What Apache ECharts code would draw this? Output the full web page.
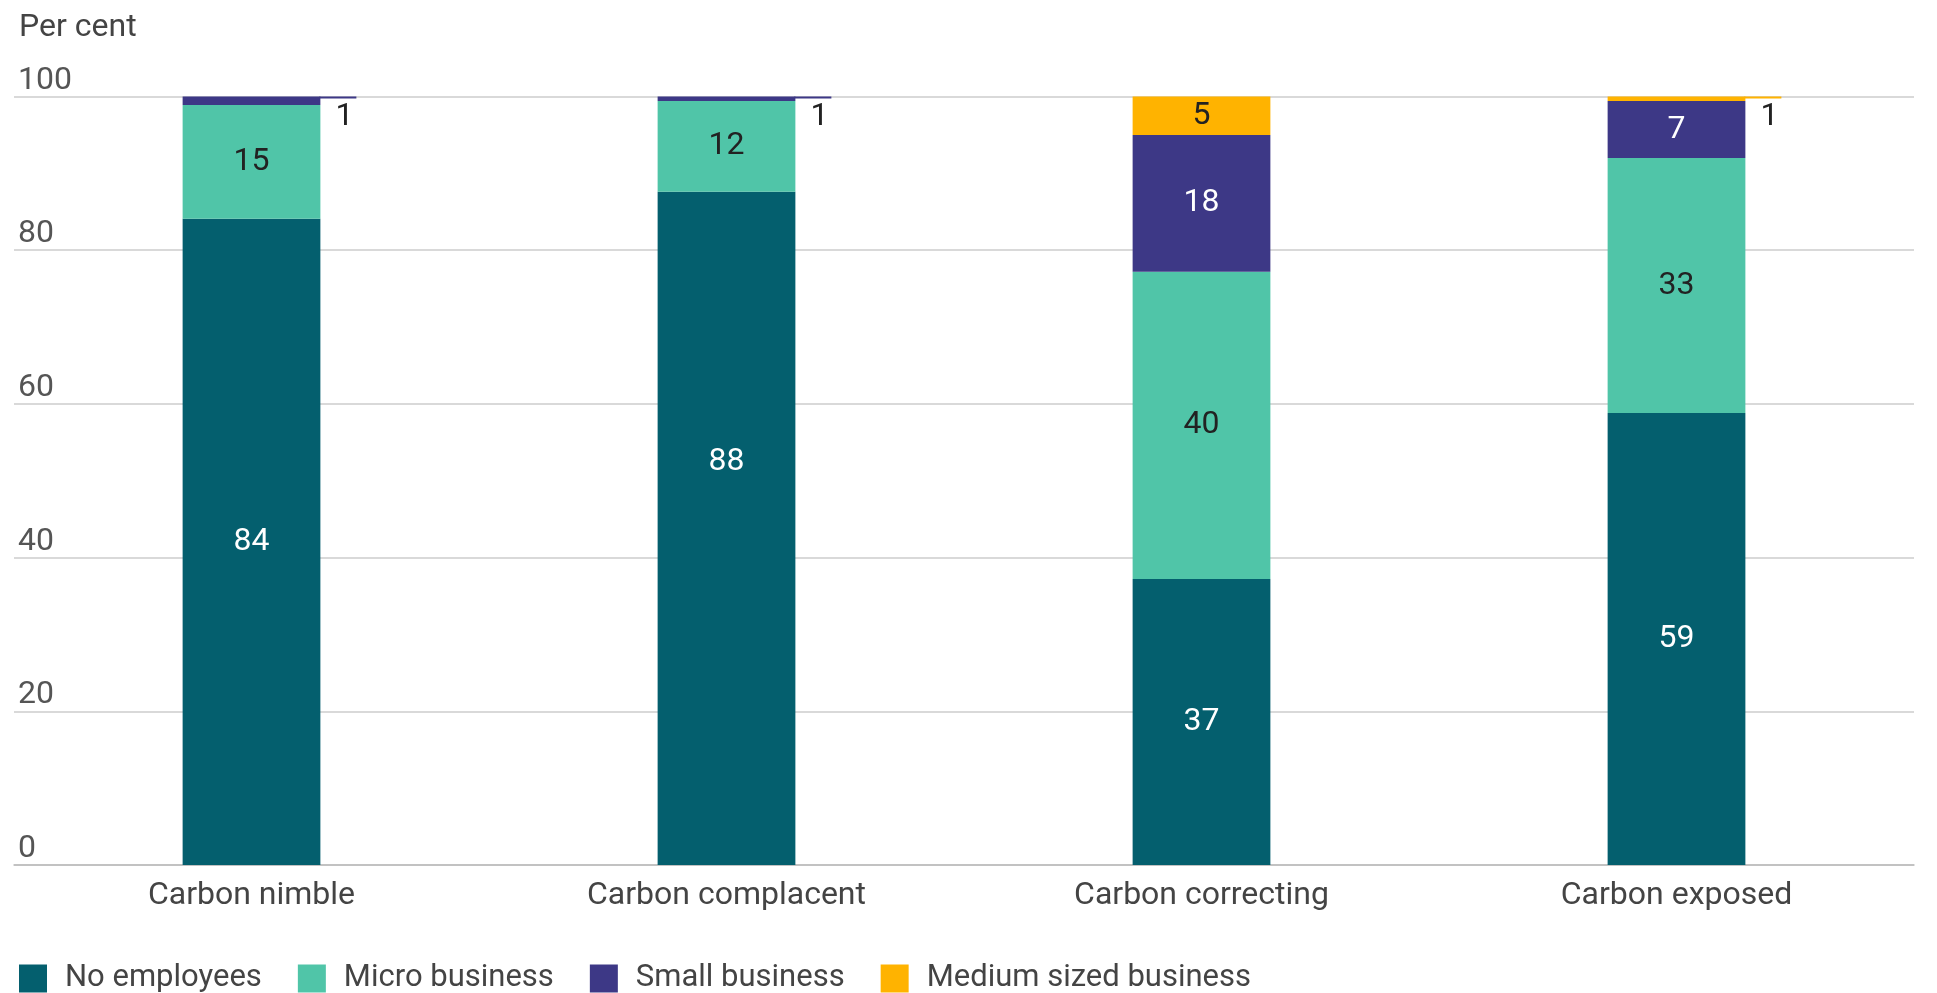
<!DOCTYPE html>
<html>
<head>
<meta charset="utf-8">
<script src="https://cdn.jsdelivr.net/npm/echarts@6/dist/echarts.min.js"></script>
<style>
html,body{margin:0;padding:0;background:#fff;}
#chart{width:1937px;height:993px;}
</style>
</head>
<body>
<div id="chart"></div>
<script>
// ---- data ----
const categories = ['Carbon nimble', 'Carbon complacent', 'Carbon correcting', 'Carbon exposed'];
const seriesNames = ['No employees', 'Micro business', 'Small business', 'Medium sized business'];
const noEmployees = [84.1, 87.6, 37.2, 58.8];
const microBusiness = [14.8, 11.8, 40.0, 33.2];
const smallBusiness = [1.1, 0.6, 17.8, 7.4];
const mediumBusiness = [0, 0, 5.0, 0.6];
const yTicks = [0, 20, 40, 60, 80, 100];
const yTitle = 'Per cent';

// ---- styles ----
const colors = ['#045F6E', '#50C5A8', '#3D3886', '#FFB300'];
const labelColors = ['#ffffff', '#222222', '#ffffff', '#222222'];
const FONT = 'Roboto';
const FS = 32;
const LEGEND_FS = 31;
const BAR_RATIO = 0.29;
// label vertical nudges (px) per [series][category], matching the reference placement
const labelNudge = [[0, -66, 0, 0], [0, 0, 0, 0], [0, 0, 0, 0], [0, 0, 0, 0]];

const values = [noEmployees, microBusiness, smallBusiness, mediumBusiness];

// small segments get an outside leader label
const smallPoints = [];
categories.forEach((c, ci) => {
  let cum = 0;
  values.forEach((arr, si) => {
    const v = arr[ci];
    const top = cum + v;
    if (v > 0 && v < 3) {
      smallPoints.push({ value: [ci, top, Math.max(1, Math.round(v)), si] });
    }
    cum = top;
  });
});

const barSeries = seriesNames.map((name, si) => ({
  name: name,
  type: 'bar',
  stack: 'total',
  barWidth: (BAR_RATIO * 100) + '%',
  data: values[si].map((v, ci) => (labelNudge[si][ci] ? { value: v, label: { offset: [0, labelNudge[si][ci]] } } : v)),
  itemStyle: { color: colors[si] },
  label: {
    show: true,
    position: 'inside',
    color: labelColors[si],
    fontFamily: FONT,
    fontSize: FS,
    formatter: p => (p.value >= 3 ? String(Math.round(p.value)) : '')
  },
  emphasis: { disabled: true },
  animation: false
}));

const leaderSeries = {
  type: 'custom',
  name: 'leaders',
  data: smallPoints,
  silent: true,
  animation: false,
  z: 5,
  renderItem: function (params, api) {
    const ci = api.value(0);
    const top = api.value(1);
    const lab = api.value(2);
    const si = api.value(3);
    const pt = api.coord([ci, top]);
    const band = api.size([1, 0])[0];
    const x0 = pt[0] + band * BAR_RATIO / 2;
    return {
      type: 'group',
      children: [
        {
          type: 'line',
          shape: { x1: x0 - 1, y1: pt[1] + 1, x2: x0 + 36, y2: pt[1] + 1 },
          style: { stroke: colors[si], lineWidth: 2 }
        },
        {
          type: 'text',
          x: x0 + 24,
          y: pt[1] + 20,
          style: {
            text: String(lab),
            fill: '#222',
            font: FS + 'px ' + FONT,
            align: 'center',
            verticalAlign: 'middle'
          }
        }
      ]
    };
  }
};

const chart = echarts.init(document.getElementById('chart'));
chart.setOption({
  animation: false,
  textStyle: { fontFamily: FONT },
  title: {
    text: yTitle,
    left: 14,
    top: 7,
    textStyle: { fontFamily: FONT, fontSize: FS, fontWeight: 'normal', color: '#444' }
  },
  legend: {
    data: seriesNames,
    left: 14,
    top: 958,
    icon: 'rect',
    itemWidth: 28,
    itemHeight: 28,
    itemGap: 36,
    textStyle: { fontFamily: FONT, fontSize: LEGEND_FS, color: '#444', padding: [0, 0, 0, 13] }
  },
  grid: { left: 14, right: 23, top: 96.5, bottom: 128, containLabel: false },
  xAxis: {
    type: 'category',
    data: categories,
    axisTick: { show: false },
    axisLine: { lineStyle: { color: '#bbbbbb', width: 1.5 } },
    axisLabel: { fontFamily: FONT, fontSize: FS, color: '#444', margin: 15 }
  },
  yAxis: {
    type: 'value',
    min: yTicks[0],
    max: yTicks[yTicks.length - 1],
    interval: yTicks[1] - yTicks[0],
    axisLine: { show: false },
    axisTick: { show: false },
    splitLine: { lineStyle: { color: '#cccccc', width: 1.5 } },
    axisLabel: {
      inside: true,
      margin: 4,
      align: 'left',
      verticalAlign: 'bottom',
      padding: [0, 0, 0, 0],
      fontFamily: FONT,
      fontSize: FS,
      color: '#555',
      formatter: v => (yTicks.indexOf(v) >= 0 ? String(v) : '')
    }
  },
  series: barSeries.concat([leaderSeries])
});
</script>
</body>
</html>
